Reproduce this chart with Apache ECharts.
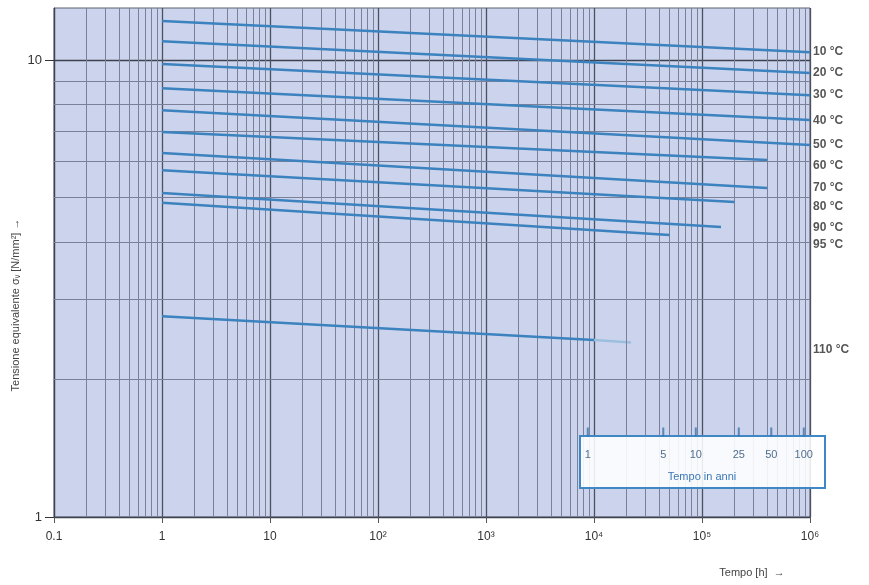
<!DOCTYPE html>
<html><head><meta charset="utf-8">
<script src="https://cdn.jsdelivr.net/npm/echarts@6/dist/echarts.min.js"></script>
<style>html,body{margin:0;padding:0;background:#fff}#c{width:869px;height:585px}</style>
</head><body><div id="c"></div>
<script>
// ---- data ----
const xTickLabels = {'-1':'0.1','0':'1','1':'10','2':'10²','3':'10³','4':'10⁴','5':'10⁵','6':'10⁶'};
const yTickValues = [1, 10];
const yTickLabels = {'0':'1','1':'10'};
const temperatures = ['10 °C','20 °C','30 °C','40 °C','50 °C','60 °C','70 °C','80 °C','90 °C','95 °C','110 °C'];
const t10 = [[1, 12.17], [1e6, 10.4]];
const t20 = [[1, 11.0], [1e6, 9.37]];
const t30 = [[1, 9.8], [1e6, 8.38]];
const t40 = [[1, 8.68], [1e6, 7.39]];
const t50 = [[1, 7.77], [1e6, 6.52]];
const t60 = [[1, 6.96], [4.0e5, 6.04]];
const t70 = [[1, 6.26], [4.0e5, 5.25]];
const t80 = [[1, 5.74], [2.0e5, 4.89]];
const t90 = [[1, 5.12], [1.5e5, 4.31]];
const t95 = [[1, 4.87], [5.0e4, 4.14]];
const t110 = [[1, 2.75], [1e4, 2.44]];
const t110Extension = [[1e4, 2.44], [2.2e4, 2.41]];
const labelStress = [10.41, 9.37, 8.38, 7.36, 6.52, 5.86, 5.25, 4.77, 4.29, 3.94, 2.32];
const yearTicks = [1, 5, 10, 25, 50, 100];
const hoursPerYear = 8760;

// ---- chart ----
const curves = [t10, t20, t30, t40, t50, t60, t70, t80, t90, t95, t110];
const FONT = 'Liberation Sans, Arial, sans-serif';
const LINE = '#3b82bf';

const minorX = [];
for (let d = -1; d < 6; d++) for (let k = 2; k <= 9; k++) minorX.push({xAxis: k * Math.pow(10, d)});
const minorY = [];
for (let k = 2; k <= 9; k++) minorY.push({yAxis: k});

const chart = echarts.init(document.getElementById('c'), null, {renderer: 'canvas'});
const series = [];
series.push({
  type: 'line', data: [], silent: true, z: 1,
  markLine: {silent: true, symbol: ['none', 'none'], label: {show: false},
    lineStyle: {color: '#7a8097', width: 1, type: 'solid'}, emphasis: {disabled: true},
    data: minorX.concat(minorY)}
});
curves.forEach((d, i) => series.push({
  type: 'line', name: temperatures[i], data: d, showSymbol: false, z: 5,
  lineStyle: {color: LINE, width: 2.5}, itemStyle: {color: LINE}
}));
series.push({
  type: 'line', data: t110Extension, showSymbol: false, z: 4,
  lineStyle: {color: '#9cbfe0', width: 2.5}
});
series.push({
  type: 'scatter', data: labelStress.map((v, i) => ({value: [1e6, v], name: temperatures[i]})),
  symbolSize: 0, z: 6, silent: true,
  label: {show: true, position: 'right', distance: 3, formatter: p => p.name,
    color: '#2b2b2b', fontFamily: FONT, fontSize: 12, fontWeight: 'bold'}
});
series.push({
  type: 'scatter', xAxisIndex: 1, yAxisIndex: 1, z: 20, silent: true,
  data: yearTicks.map(y => ({value: [y * hoursPerYear, 1], name: String(y)})),
  symbol: 'rect', symbolSize: [2, 9], symbolOffset: [0, -4], itemStyle: {color: '#3574ad'},
  label: {show: true, position: 'bottom', distance: 13, formatter: p => p.name,
    color: '#244a74', fontFamily: FONT, fontSize: 11}
});

chart.setOption({
  backgroundColor: '#ffffff',
  animation: false,
  grid: [
    {left: 54, right: 59, top: 8, bottom: 68, show: true, backgroundColor: '#cbd4ec',
     borderColor: '#5b6070', borderWidth: 1},
    {left: 54, right: 59, top: 436, height: 52}
  ],
  xAxis: [
    {type: 'log', logBase: 10, min: 0.1, max: 1e6, gridIndex: 0,
     axisLine: {show: true, lineStyle: {color: '#3e4250', width: 1.2}},
     axisTick: {show: true, length: 6, lineStyle: {color: '#555'}},
     splitLine: {show: true, lineStyle: {color: '#4c5162', width: 1.3}},
     axisLabel: {margin: 14, color: '#333', fontFamily: FONT, fontSize: 12,
       formatter: v => { const e = Math.round(Math.log10(v)); return xTickLabels[e] || ''; }}},
    {type: 'log', logBase: 10, min: 0.1, max: 1e6, gridIndex: 1, show: false}
  ],
  yAxis: [
    {type: 'log', logBase: 10, min: 1, max: 13, gridIndex: 0,
     axisLine: {show: true, lineStyle: {color: '#3e4250', width: 1.2}},
     axisTick: {show: true, length: 9, customValues: yTickValues, lineStyle: {color: '#333'}},
     splitLine: {show: true, lineStyle: {color: '#3e4250', width: 1.3}},
     axisLabel: {margin: 12, color: '#333', fontFamily: FONT, fontSize: 13, customValues: yTickValues,
       formatter: v => { const e = Math.log10(v); return Math.abs(e - Math.round(e)) < 1e-6 ? (yTickLabels[Math.round(e)] || '') : ''; }}},
    {type: 'value', min: 0, max: 1, gridIndex: 1, show: false}
  ],
  series: series,
  graphic: [
    {type: 'rect', z: 10, shape: {x: 580, y: 436, width: 245, height: 52},
     style: {fill: 'rgba(255,255,255,0.88)', stroke: '#3f88c5', lineWidth: 2}},
    {type: 'text', z: 21, x: 702, y: 477,
     style: {text: 'Tempo in anni', fill: '#3a78b5', font: '11px ' + FONT, textAlign: 'center', textVerticalAlign: 'middle'}},
    {type: 'text', z: 21, x: 16, y: 305, rotation: Math.PI / 2,
     style: {text: 'Tensione equivalente σᵥ [N/mm²] →', fill: '#444', font: '11px ' + FONT, textAlign: 'center', textVerticalAlign: 'middle'}},
    {type: 'text', z: 21, x: 752, y: 573,
     style: {text: 'Tempo [h]  →', fill: '#444', font: '11px ' + FONT, textAlign: 'center', textVerticalAlign: 'middle'}}
  ]
});
</script></body></html>
